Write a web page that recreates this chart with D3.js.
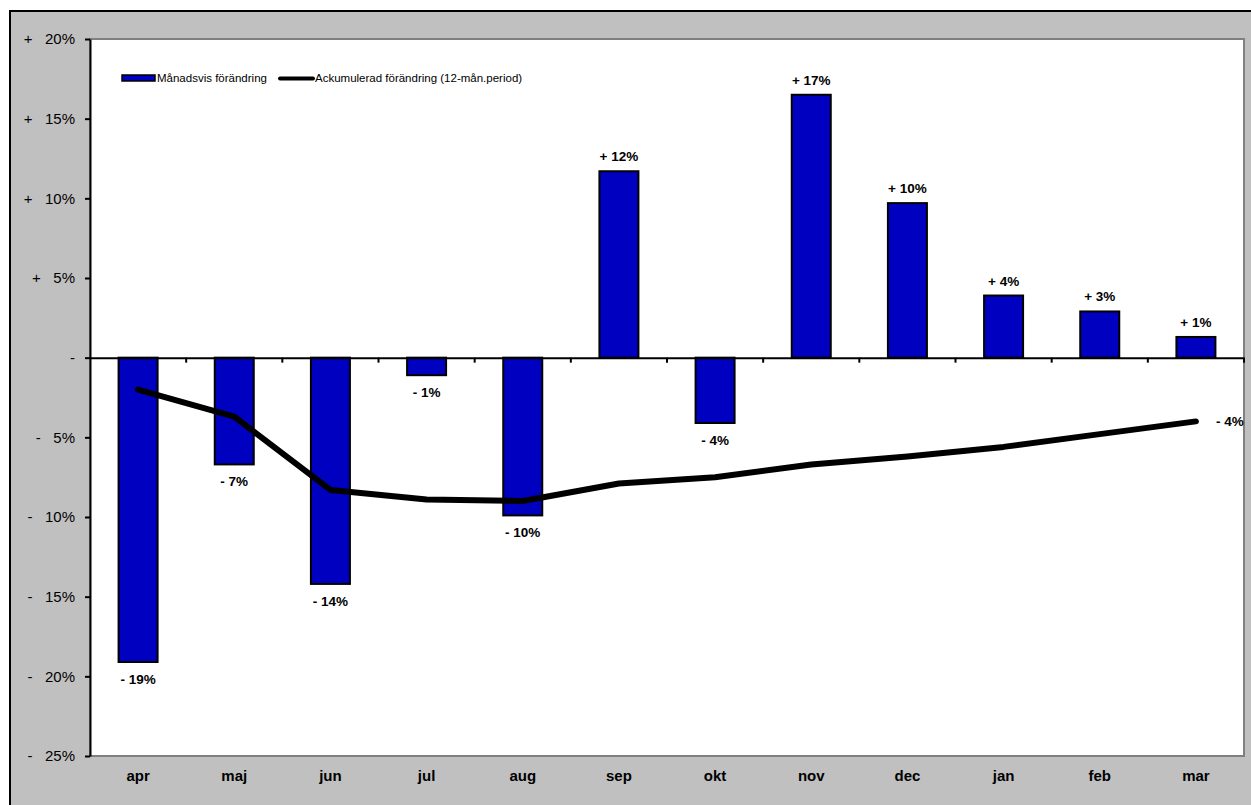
<!DOCTYPE html>
<html><head><meta charset="utf-8">
<script src="https://cdn.jsdelivr.net/npm/d3@7"></script>
<style>body{margin:0;background:#fff}svg{display:block;font-family:Arial,"Liberation Sans",sans-serif}</style>
</head><body><svg id="c" width="1251" height="805"></svg>
<script>
const months = ["apr","maj","jun","jul","aug","sep","okt","nov","dec","jan","feb","mar"];
const monthly = [-19.1,-6.7,-14.2,-1.1,-9.9,11.7,-4.1,16.5,9.7,3.9,2.9,1.3];
const monthlyLabels = ["- 19%","- 7%","- 14%","- 1%","- 10%","+ 12%","- 4%","+ 17%","+ 10%","+ 4%","+ 3%","+ 1%"];
const cumulative = [-2.0,-3.7,-8.3,-8.9,-9.0,-7.9,-7.5,-6.7,-6.2,-5.6,-4.8,-4.0];
const lastCumLabel = "- 4%";
const yTicks = [20,15,10,5,0,-5,-10,-15,-20,-25];
const yTickLabels = ["+   20%","+   15%","+   10%","+   5%","-","-   5%","-   10%","-   15%","-   20%","-   25%"];
const seriesNames = ["Månadsvis förändring","Ackumulerad förändring (12-mån.period)"];

const svg = d3.select("#c");
const L = 90, R = 1244, T = 39, B = 756;
svg.append("rect").attr("x",0).attr("y",0).attr("width",1251).attr("height",805).attr("fill","#fff");
svg.append("rect").attr("x",10).attr("y",11).attr("width",1250).attr("height",805).attr("fill","#c0c0c0").attr("stroke","#000").attr("stroke-width",2);
svg.append("rect").attr("x",L).attr("y",T).attr("width",R-L).attr("height",B-T).attr("fill","#fff").attr("stroke","#808080").attr("stroke-width",2);

const x = d3.scaleBand().domain(months).range([L,R]);
const y = d3.scaleLinear().domain([-25,20]).range([B,T]);
const bw = 39;

// bars
svg.append("g").selectAll("rect").data(monthly).join("rect")
  .attr("x",(d,i)=>x(months[i])+x.bandwidth()/2-bw/2)
  .attr("width",bw)
  .attr("y",d=>y(Math.max(0,d)))
  .attr("height",d=>Math.abs(y(d)-y(0)))
  .attr("fill","#0000c0").attr("stroke","#000").attr("stroke-width",2);

// zero axis
const xAxis = d3.axisBottom(x).tickSize(5).tickFormat("").tickSizeOuter(0);
const gx = svg.append("g").attr("transform",`translate(0,${y(0)})`).call(xAxis);
gx.selectAll(".tick").attr("transform",d=>`translate(${x(d)+x.bandwidth()},0)`);
gx.select(".domain").attr("stroke","#000").attr("stroke-width",2);
gx.selectAll(".tick line").attr("stroke","#000").attr("stroke-width",2);

// y axis
const yAxis = d3.axisLeft(y).tickValues(yTicks).tickSize(5).tickSizeOuter(0)
  .tickFormat((d,i)=>yTickLabels[i]);
const gy = svg.append("g").attr("transform",`translate(${L},0)`).call(yAxis);
gy.select(".domain").attr("stroke","#000").attr("stroke-width",2);
gy.selectAll(".tick line").attr("stroke","#000").attr("stroke-width",2);
gy.selectAll(".tick text").attr("x",-15).attr("font-size",15).attr("fill","#000")
  .attr("xml:space","preserve").style("white-space","pre")
  .attr("font-family","Arial, Liberation Sans, sans-serif");

// category labels
svg.append("g").selectAll("text").data(months).join("text")
  .attr("x",d=>x(d)+x.bandwidth()/2).attr("y",781)
  .attr("text-anchor","middle").attr("font-weight","bold").attr("font-size",15).text(d=>d);

// line
const line = d3.line().x((d,i)=>x(months[i])+x.bandwidth()/2).y(d=>y(d));
svg.append("path").datum(cumulative).attr("d",line).attr("fill","none")
  .attr("stroke","#000").attr("stroke-width",6).attr("stroke-linecap","round").attr("stroke-linejoin","round");

// bar labels
svg.append("g").selectAll("text").data(monthly).join("text")
  .attr("x",(d,i)=>x(months[i])+x.bandwidth()/2)
  .attr("y",d=> d>=0 ? y(d)-10 : y(d)+22)
  .attr("text-anchor","middle").attr("font-weight","bold").attr("font-size",13.5)
  .attr("xml:space","preserve")
  .text((d,i)=>monthlyLabels[i]);

// cumulative last label
const li = cumulative.length-1;
svg.append("text").attr("x",x(months[li])+x.bandwidth()/2+20).attr("y",y(cumulative[li])+5)
  .attr("font-weight","bold").attr("font-size",13.5).attr("xml:space","preserve").text(lastCumLabel);

// legend
const lg = svg.append("g");
lg.append("rect").attr("x",122).attr("y",75).attr("width",33).attr("height",6).attr("fill","#0000c0").attr("stroke","#000").attr("stroke-width",1.5);
lg.append("text").attr("x",157).attr("y",82).attr("font-size",11.5).text(seriesNames[0]);
lg.append("line").attr("x1",280).attr("x2",313).attr("y1",78.5).attr("y2",78.5).attr("stroke","#000").attr("stroke-width",4).attr("stroke-linecap","round");
lg.append("text").attr("x",315).attr("y",82).attr("font-size",11.5).text(seriesNames[1]);
</script></body></html>
